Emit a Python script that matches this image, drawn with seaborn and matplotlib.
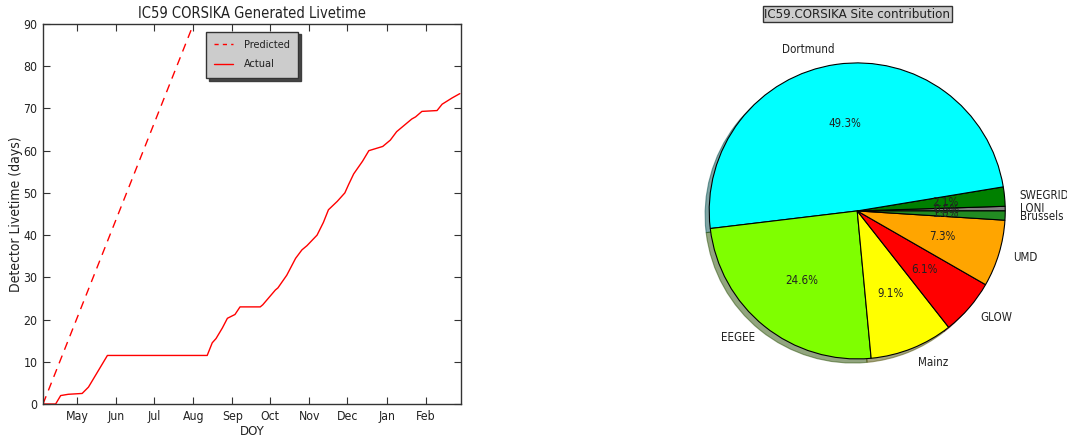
import matplotlib
matplotlib.use("Agg")
import matplotlib.pyplot as plt
import matplotlib.dates as mdates
import numpy as np
import pandas as pd
import seaborn as sns

# Cumulative generated livetime (days) against calendar date
actual_dates = [
    "2009-04-04", "2009-04-14", "2009-04-18", "2009-04-24", "2009-05-05",
    "2009-05-10", "2009-05-17", "2009-05-25", "2009-08-12", "2009-08-16",
    "2009-08-19", "2009-08-24", "2009-08-28", "2009-09-03", "2009-09-07",
    "2009-09-23", "2009-09-25", "2009-10-05", "2009-10-07", "2009-10-14",
    "2009-10-21", "2009-10-26", "2009-10-30", "2009-11-07", "2009-11-12",
    "2009-11-16", "2009-11-23", "2009-11-29", "2009-12-02", "2009-12-06",
    "2009-12-13", "2009-12-18", "2009-12-29", "2010-01-04", "2010-01-09",
    "2010-01-13", "2010-01-21", "2010-01-24", "2010-01-29", "2010-02-10",
    "2010-02-14", "2010-02-22", "2010-02-28",
]
actual_days = [
    0.0, 0.0, 2.0, 2.3, 2.5,
    4.0, 7.5, 11.5, 11.5, 14.5,
    15.5, 18.0, 20.3, 21.2, 23.0,
    23.0, 23.5, 27.0, 27.5, 30.5,
    34.5, 36.5, 37.5, 40.0, 43.0,
    46.0, 48.0, 50.0, 52.0, 54.5,
    57.5, 60.0, 61.0, 62.5, 64.5,
    65.5, 67.5, 68.0, 69.3, 69.5,
    71.0, 72.5, 73.5,
]

# Predicted livetime: straight line from the start of the run
predicted_dates = ["2009-04-04", "2010-03-01"]
predicted_days = [0.0, 250.0]

# Share of generated livetime per site (percent)
sites = ["LONI", "SWEGRID", "Dortmund", "EEGEE", "Mainz", "GLOW", "UMD", "Brussels"]
shares = [0.5, 2.1, 49.3, 24.6, 9.1, 6.1, 7.3, 1.0]
site_colors = ["gray", "green", "cyan", "chartreuse", "yellow", "red", "orange", "forestgreen"]

sns.set_theme(style="white")
plt.rcParams["font.family"] = ["DejaVu Sans"]
plt.rcParams["font.stretch"] = "condensed"
plt.rcParams["axes.edgecolor"] = "#333333"
plt.rcParams["axes.linewidth"] = 1.0
plt.rcParams["text.color"] = "#222222"
plt.rcParams["axes.labelcolor"] = "#222222"

fig = plt.figure(figsize=(10.67, 4.37), dpi=100)
ax = fig.add_axes([0.0403, 0.0755, 0.3918, 0.8696])
ax2 = fig.add_axes([0.63, 0.094, 0.3468, 0.8467])

actual = pd.DataFrame({"date": pd.to_datetime(actual_dates), "days": actual_days})
predicted = pd.DataFrame({"date": pd.to_datetime(predicted_dates), "days": predicted_days})

sns.lineplot(data=predicted, x="date", y="days", ax=ax, color="red",
             linewidth=1.0, label="Predicted", estimator=None)
ax.lines[-1].set_dashes((6, 4.5))
sns.lineplot(data=actual, x="date", y="days", ax=ax, color="red",
             linewidth=1.0, label="Actual", estimator=None)

ax.set_xlim(pd.Timestamp("2009-04-04"), pd.Timestamp("2010-03-01"))
ax.set_ylim(0, 90)
ax.set_yticks(np.arange(0, 91, 10))
ax.xaxis.set_major_locator(mdates.MonthLocator(bymonth=[5, 6, 7, 8, 9, 10, 11, 12, 1, 2]))
ax.xaxis.set_major_formatter(mdates.DateFormatter("%b"))
ax.tick_params(direction="in", top=True, right=True, bottom=True, left=True,
               length=5, width=0.8, color="#333333", labelsize=8.8, pad=4,
               labelcolor="#222222")
ax.set_xlabel("DOY", fontsize=9.5, labelpad=2)
ax.set_ylabel("Detector Livetime (days)", fontsize=10, labelpad=0.5)
ax.set_title("IC59 CORSIKA Generated Livetime", fontsize=10.5, pad=4)

leg = ax.legend(loc="upper center", fontsize=7.8, shadow={"color": "#333333", "alpha": 0.9},
                fancybox=False, frameon=True, handlelength=1.7, borderpad=0.8,
                labelspacing=0.85, borderaxespad=0.7, handletextpad=1.0)
leg.get_frame().set_facecolor("#cccccc")
leg.get_frame().set_edgecolor("#333333")
leg.get_frame().set_alpha(1.0)
leg.get_lines()[0].set_dashes((3, 3))

# Site contribution pie
wedges, texts, autotexts = ax2.pie(
    shares, labels=sites, colors=site_colors, autopct="%1.1f%%",
    shadow=True, startangle=0, labeldistance=1.1, pctdistance=0.6,
    wedgeprops={"edgecolor": "black", "linewidth": 0.8},
    textprops={"fontsize": 8.3},
)
ax2.set_aspect("equal")
ax2.set_title("IC59.CORSIKA Site contribution", fontsize=9.5, pad=6,
              bbox={"facecolor": "#cccccc", "edgecolor": "#333333", "pad": 1})

fig.savefig("out.png", dpi=100)
